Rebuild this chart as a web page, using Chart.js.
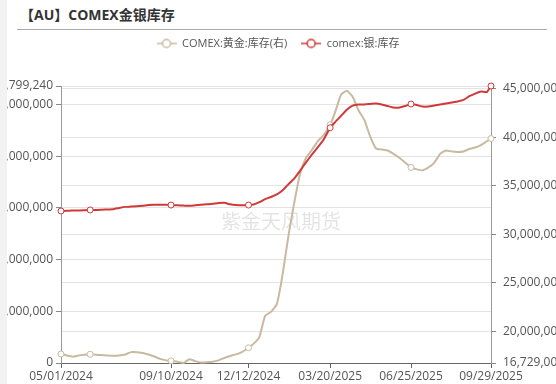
<!DOCTYPE html>
<html>
<head>
<meta charset="utf-8">
<script src="https://cdn.jsdelivr.net/npm/chart.js@4.4.1/dist/chart.umd.min.js"></script>
<style>
  html, body { margin: 0; padding: 0; background: #fff; width: 556px; height: 384px; overflow: hidden;
    font-family: 'Open Sans', 'Noto Sans CJK SC', sans-serif; }
  #strip { position: absolute; left: 0; top: 0; width: 7px; height: 384px; background: #f2f2f2; }
  #title { position: absolute; left: 20px; top: 5px; font-size: 14px; font-weight: bold; color: #333; line-height: 20px; }
  #rule { position: absolute; left: 17px; top: 29px; width: 530px; height: 1px; background: #aaa; }
  #wrap { position: absolute; left: 7px; top: 0; width: 549px; height: 384px; overflow: hidden; }
  #box { position: absolute; left: -29px; top: 0; width: 600px; height: 384px; }
</style>
</head>
<body>
<div id="strip"></div>
<div id="title">【AU】COMEX金银库存</div>
<div id="rule"></div>
<div id="wrap"><div id="box"><canvas id="stockChart"></canvas></div></div>

<script>
// COMEX gold / silver inventory, weekly readings

const tickDates = ['2024-05-01', '2024-09-10', '2024-12-12', '2025-03-20', '2025-06-25', '2025-09-29'];

const dates = [
  '2024-05-01', '2024-05-08', '2024-05-15', '2024-05-22', '2024-05-29', '2024-06-05', '2024-06-12', '2024-06-19',
  '2024-06-26', '2024-07-03', '2024-07-10', '2024-07-17', '2024-07-24', '2024-07-31', '2024-08-07', '2024-08-14',
  '2024-08-21', '2024-08-28', '2024-09-04', '2024-09-10', '2024-09-18', '2024-09-25', '2024-10-02', '2024-10-09',
  '2024-10-16', '2024-10-23', '2024-10-30', '2024-11-06', '2024-11-13', '2024-11-20', '2024-11-27', '2024-12-04',
  '2024-12-12', '2024-12-18', '2024-12-25', '2025-01-01', '2025-01-08', '2025-01-15', '2025-01-22', '2025-01-29',
  '2025-02-05', '2025-02-12', '2025-02-19', '2025-02-26', '2025-03-05', '2025-03-12', '2025-03-20', '2025-03-26',
  '2025-04-02', '2025-04-09', '2025-04-16', '2025-04-23', '2025-04-30', '2025-05-07', '2025-05-14', '2025-05-21',
  '2025-05-28', '2025-06-04', '2025-06-11', '2025-06-18', '2025-06-25', '2025-07-02', '2025-07-09', '2025-07-16',
  '2025-07-23', '2025-07-30', '2025-08-06', '2025-08-13', '2025-08-20', '2025-08-27', '2025-09-03', '2025-09-10',
  '2025-09-17', '2025-09-24', '2025-09-29'
];

// comex:银:库存 (left axis)
const silverStock = [
  294.0e6, 294.5e6, 295.0e6, 295.0e6, 295.5e6, 296.0e6, 296.0e6, 296.5e6, 297.0e6, 297.5e6,
  300.0e6, 302.0e6, 302.5e6, 303.0e6, 304.0e6, 305.5e6, 306.0e6, 306.0e6, 306.0e6, 305.5e6,
  305.0e6, 304.5e6, 304.0e6, 305.0e6, 306.0e6, 307.0e6, 308.0e6, 309.5e6, 310.0e6, 307.0e6,
  305.5e6, 305.0e6, 305.5e6, 306.5e6, 311.0e6, 317.0e6, 321.0e6, 326.0e6, 334.0e6, 346.0e6,
  357.0e6, 372.0e6, 388.0e6, 403.0e6, 417.0e6, 432.0e6, 455.0e6, 466.0e6, 478.0e6, 490.0e6,
  498.0e6, 500.0e6, 500.0e6, 501.0e6, 502.0e6, 500.0e6, 497.0e6, 494.0e6, 494.0e6, 497.0e6,
  501.0e6, 499.0e6, 496.0e6, 496.0e6, 498.0e6, 500.0e6, 502.0e6, 504.0e6, 506.0e6, 509.0e6,
  516.0e6, 521.0e6, 525.0e6, 524.0e6, 535799240
];

// COMEX:黄金:库存 (right axis)
const goldStock = [
  17.66e6, 17.50e6, 17.38e6, 17.50e6, 17.58e6, 17.63e6, 17.58e6, 17.55e6, 17.50e6, 17.48e6,
  17.50e6, 17.60e6, 17.85e6, 17.85e6, 17.75e6, 17.60e6, 17.40e6, 17.15e6, 17.00e6, 16.95e6,
  16.85e6, 16.729e6, 17.12e6, 16.92e6, 16.78e6, 16.80e6, 16.85e6, 17.00e6, 17.25e6, 17.45e6,
  17.62e6, 17.85e6, 18.30e6, 18.70e6, 19.40e6, 21.60e6, 22.00e6, 22.80e6, 25.90e6, 29.90e6,
  33.30e6, 36.30e6, 37.90e6, 38.70e6, 39.60e6, 40.20e6, 41.30e6, 42.60e6, 44.40e6, 44.80e6,
  44.20e6, 42.80e6, 41.80e6, 40.10e6, 38.85e6, 38.75e6, 38.65e6, 38.30e6, 37.90e6, 37.40e6,
  36.90e6, 36.70e6, 36.60e6, 36.90e6, 37.40e6, 38.30e6, 38.65e6, 38.55e6, 38.50e6, 38.55e6,
  38.80e6, 38.95e6, 39.20e6, 39.60e6, 39.88e6
];

const silverTicks = [0, 100000000, 200000000, 300000000, 400000000, 500000000, 535799240];
const goldTicks = [16729000, 20000000, 25000000, 30000000, 35000000, 40000000, 45000000];

const RED = '#d0393a';
const TAN = '#c9b99f';

const dayOf = s => (Date.parse(s) - Date.parse(dates[0])) / 864e5;
const fmtDate = s => { const [y, m, d] = s.split('-'); return m + '/' + d + '/' + y; };
const fmtNum = v => Math.round(v).toLocaleString('en-US');

// points drawn with a hollow marker (same places the original shows them)
const markDates = ['2024-06-05'].concat(tickDates);

function legendIcon(color) {
  const c = document.createElement('canvas');
  c.width = 20; c.height = 12;
  const g = c.getContext('2d');
  g.strokeStyle = color; g.lineWidth = 1.5;
  g.beginPath(); g.moveTo(0, 6); g.lineTo(20, 6); g.stroke();
  g.beginPath(); g.arc(10, 6, 4, 0, Math.PI * 2);
  g.fillStyle = '#fff'; g.fill(); g.stroke();
  return c;
}
const icons = [legendIcon(TAN), legendIcon(RED)];

const watermark = {
  id: 'watermark',
  beforeDatasetsDraw(chart) {
    const { ctx, chartArea } = chart;
    ctx.save();
    ctx.font = '20px "Noto Sans CJK SC"';
    ctx.fillStyle = 'rgba(0,0,0,0.11)';
    ctx.textAlign = 'center';
    ctx.textBaseline = 'middle';
    ctx.fillText('紫金天风期货', chartArea.left + 220, chartArea.top + 135);
    ctx.restore();
  }
};

// extra room between the legend row and the plot
const legendGap = {
  id: 'legendGap',
  beforeInit(chart) {
    const fit = chart.legend.fit;
    chart.legend.fit = function () {
      fit.call(this);
      this.height += 27;
    };
  }
};

const radius = ctx => markDates.includes(dates[ctx.dataIndex]) ? 3 : 0;

Chart.defaults.font.family = "'Open Sans', 'Noto Sans CJK SC', sans-serif";
Chart.defaults.color = '#555';

new Chart(document.getElementById('stockChart'), {
  type: 'line',
  data: {
    datasets: [
      {
        label: 'COMEX:黄金:库存(右)',
        data: dates.map((d, i) => ({ x: dayOf(d), y: goldStock[i] })),
        yAxisID: 'yGold',
        borderColor: TAN,
        backgroundColor: '#fff',
        borderWidth: 2,
        pointRadius: radius,
        pointBorderWidth: 1,
        pointBackgroundColor: '#fff',
        tension: 0.15,
        clip: false,
        order: 1
      },
      {
        label: 'comex:银:库存',
        data: dates.map((d, i) => ({ x: dayOf(d), y: silverStock[i] })),
        yAxisID: 'ySilver',
        borderColor: RED,
        backgroundColor: '#fff',
        borderWidth: 2,
        pointRadius: radius,
        pointBorderWidth: 1,
        pointBackgroundColor: '#fff',
        tension: 0.15,
        clip: false,
        order: 0
      }
    ]
  },
  options: {
    responsive: true,
    maintainAspectRatio: false,
    animation: false,
    layout: { padding: { top: 24, left: 0, right: 0, bottom: 0 } },
    plugins: {
      tooltip: { enabled: false },
      legend: {
        position: 'top',
        labels: {
          usePointStyle: true,
          pointStyleWidth: 20,
          padding: 14,
          font: { size: 11 },
          color: '#555',
          generateLabels: chart => chart.data.datasets.map((ds, i) => ({
            text: ds.label,
            datasetIndex: i,
            pointStyle: icons[i],
            fillStyle: '#fff',
            strokeStyle: ds.borderColor,
            lineWidth: 0,
            fontColor: '#555',
            hidden: false
          }))
        }
      }
    },
    scales: {
      x: {
        type: 'linear',
        min: 0,
        max: dayOf(dates[dates.length - 1]),
        afterBuildTicks: s => { s.ticks = tickDates.map(d => ({ value: dayOf(d) })); },
        afterFit: s => { s.height = 21; },
        ticks: {
          autoSkip: false, maxRotation: 0, padding: 1, font: { size: 12 }, color: '#555',
          callback: (v, i) => fmtDate(tickDates[i])
        },
        grid: { drawOnChartArea: false, tickLength: 5, color: '#666' },
        border: { color: '#666' }
      },
      ySilver: {
        position: 'left',
        min: 0,
        max: 535799240,
        afterBuildTicks: s => { s.ticks = silverTicks.map(v => ({ value: v })); },
        afterFit: s => { s.width = 83; },
        ticks: { padding: 3, font: { size: 12 }, color: '#555', callback: v => fmtNum(v) },
        grid: { color: '#e3e3e3', tickLength: 5, tickColor: '#888' },
        border: { color: '#999' }
      },
      yGold: {
        position: 'right',
        min: 16729000,
        max: 45300000,
        afterBuildTicks: s => { s.ticks = goldTicks.map(v => ({ value: v })); },
        afterFit: s => { s.width = 87; },
        ticks: { padding: 7, font: { size: 12 }, color: '#555', callback: v => fmtNum(v) },
        grid: { color: '#e3e3e3', tickLength: 5, tickColor: '#888' },
        border: { color: '#999' }
      }
    }
  },
  plugins: [watermark, legendGap]
});
</script>
</body>
</html>
